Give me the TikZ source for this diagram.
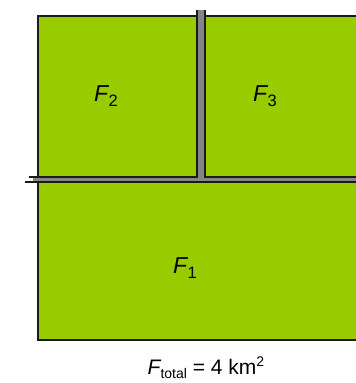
\documentclass[tikz,border=0pt]{standalone}
\usepackage{fontspec}
\setmainfont{Liberation Sans}
\definecolor{fieldgreen}{HTML}{99CC00}
\definecolor{roadgray}{HTML}{858585}
\definecolor{edgeblack}{HTML}{1A1A1A}
\newcommand{\sublbl}[2]{{\itshape #1}\kern0.5pt\raisebox{-5pt}{\fontsize{16.5}{16.5}\selectfont #2}}
\tikzset{
  field/.style={fill=fieldgreen, draw=edgeblack, line width=1.5pt},
  roadedge/.style={draw=edgeblack, line width=1.5pt},
  lab/.style={inner sep=0pt, font=\fontsize{23}{23}\selectfont},
  totlab/.style={inner sep=0pt, font=\fontsize{21}{21}\selectfont}
}
\begin{document}
\begin{tikzpicture}[x=1pt,y=-1pt]
\useasboundingbox (0,0) rectangle (356,383);
\clip (0,0) rectangle (356,383);
% roads
\fill[roadgray] (33,177) rectangle (360,182);
\fill[roadgray] (197,10) rectangle (205,182);
% fields
\path[field] (38,16) rectangle (197,177);
\path[field] (205,16) rectangle (370,177);
\path[field] (38,182) rectangle (370,340);
% road edges beyond the fields
\coordinate (hl1) at (29,177);
\coordinate (hl2) at (38,177);
\coordinate (hb1) at (25,182);
\coordinate (hb2) at (38,182);
\coordinate (vl1) at (197,10);
\coordinate (vl2) at (197,16);
\coordinate (vr1) at (205,10);
\coordinate (vr2) at (205,16);
\draw[roadedge] (hl1) -- (hl2);
\draw[roadedge] (hb1) -- (hb2);
\draw[roadedge] (vl1) -- (vl2);
\draw[roadedge] (vr1) -- (vr2);
% labels
\node[lab] (f2) at (106,96) {\sublbl{F}{2}};
\node[lab] (f3) at (265,96) {\sublbl{F}{3}};
\node[lab] (f1) at (185,268) {\sublbl{F}{1}};
\node[totlab] (ft) at (206,368) {{\itshape F}\raisebox{-4pt}{\fontsize{14}{14}\selectfont total} = 4 km\raisebox{8pt}{\fontsize{14}{14}\selectfont 2}};
\end{tikzpicture}
\end{document}
